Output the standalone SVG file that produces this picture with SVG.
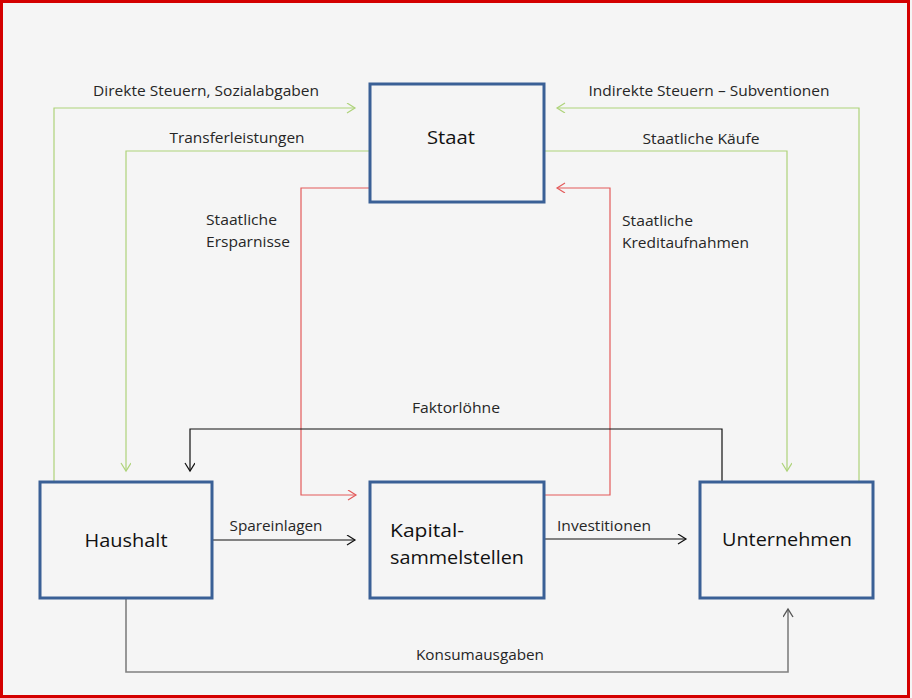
<svg xmlns="http://www.w3.org/2000/svg" width="912" height="698" viewBox="0 0 912 698">
<style>
.node rect{fill:#f5f5f5;stroke:#3a6096;stroke-width:3}
.node text{font-family:"Open Sans","Liberation Sans",sans-serif;font-size:19px;fill:#111}
.lbl{font-family:"Open Sans","Liberation Sans",sans-serif;font-size:14px;fill:#262626}
.c{fill:none;stroke-width:1.2}
.g{stroke:#aed37a}
.r{stroke:#e35b5b}
.k{stroke:#111}
.gr{stroke:#808080;stroke-width:1.6}
</style>
<defs>
<marker id="ag" markerWidth="12" markerHeight="12" refX="9" refY="5" orient="auto" markerUnits="userSpaceOnUse"><path d="M1,0 L9,5 L1,10" fill="none" stroke="#aed37a" stroke-width="1.2"/></marker>
<marker id="ar" markerWidth="12" markerHeight="12" refX="9" refY="5" orient="auto" markerUnits="userSpaceOnUse"><path d="M1,0 L9,5 L1,10" fill="none" stroke="#e35b5b" stroke-width="1.2"/></marker>
<marker id="ak" markerWidth="12" markerHeight="12" refX="9" refY="5" orient="auto" markerUnits="userSpaceOnUse"><path d="M1,0 L9,5 L1,10" fill="none" stroke="#111" stroke-width="1.2"/></marker>
<marker id="agr" markerWidth="12" markerHeight="12" refX="9" refY="5" orient="auto" markerUnits="userSpaceOnUse"><path d="M1,0 L9,5 L1,10" fill="none" stroke="#555" stroke-width="1.4"/></marker>
</defs>
<rect x="0" y="0" width="912" height="698" fill="#f5f5f5"/>
<rect x="1.5" y="1.5" width="907" height="695" fill="none" stroke="#d40000" stroke-width="3"/>

<g id="connectors">
<path class="c g" d="M54,482 V108 H355" marker-end="url(#ag)"/>
<path class="c g" d="M370,151 H126 V471" marker-end="url(#ag)"/>
<path class="c g" d="M859,482 V108 H557" marker-end="url(#ag)"/>
<path class="c g" d="M544,151 H787 V471" marker-end="url(#ag)"/>
<path class="c r" d="M370,188 H301 V495 H356" marker-end="url(#ar)"/>
<path class="c r" d="M544,495 H610 V188 H557" marker-end="url(#ar)"/>
<path class="c k" d="M722,482 V429 H190 V471" marker-end="url(#ak)"/>
<path class="c k" d="M212,540 H355" marker-end="url(#ak)"/>
<path class="c k" d="M544,539 H686" marker-end="url(#ak)"/>
<path class="c gr" d="M126,598 V672 H788 V609" marker-end="url(#agr)"/>
<text class="lbl" x="206" y="96" text-anchor="middle" textLength="226" lengthAdjust="spacingAndGlyphs">Direkte Steuern, Sozialabgaben</text>
<text class="lbl" x="237" y="143" text-anchor="middle" textLength="135" lengthAdjust="spacingAndGlyphs">Transferleistungen</text>
<text class="lbl" x="709" y="96" text-anchor="middle" textLength="241" lengthAdjust="spacingAndGlyphs">Indirekte Steuern – Subventionen</text>
<text class="lbl" x="701" y="144" text-anchor="middle" textLength="117" lengthAdjust="spacingAndGlyphs">Staatliche Käufe</text>
<text class="lbl" x="206" y="225" textLength="71" lengthAdjust="spacingAndGlyphs">Staatliche</text>
<text class="lbl" x="206" y="247" textLength="84" lengthAdjust="spacingAndGlyphs">Ersparnisse</text>
<text class="lbl" x="622" y="226" textLength="71" lengthAdjust="spacingAndGlyphs">Staatliche</text>
<text class="lbl" x="622" y="248" textLength="127" lengthAdjust="spacingAndGlyphs">Kreditaufnahmen</text>
<text class="lbl" x="456" y="413" text-anchor="middle" textLength="88" lengthAdjust="spacingAndGlyphs">Faktorlöhne</text>
<text class="lbl" x="276" y="531" text-anchor="middle" textLength="93" lengthAdjust="spacingAndGlyphs">Spareinlagen</text>
<text class="lbl" x="604" y="531" text-anchor="middle" textLength="94" lengthAdjust="spacingAndGlyphs">Investitionen</text>
<text class="lbl" x="480" y="660" text-anchor="middle" textLength="128" lengthAdjust="spacingAndGlyphs">Konsumausgaben</text>
</g>

<g id="staat" class="node">
<rect x="370" y="84" width="174" height="118"/>
<text x="451" y="144" text-anchor="middle" textLength="48" lengthAdjust="spacingAndGlyphs">Staat</text>
</g>
<g id="haushalt" class="node">
<rect x="40" y="482" width="172" height="116"/>
<text x="126" y="547" text-anchor="middle" textLength="83" lengthAdjust="spacingAndGlyphs">Haushalt</text>
</g>
<g id="kapital" class="node">
<rect x="370" y="482" width="174" height="116"/>
<text x="390" y="537" textLength="74" lengthAdjust="spacingAndGlyphs">Kapital-</text>
<text x="390" y="564" textLength="134" lengthAdjust="spacingAndGlyphs">sammelstellen</text>
</g>
<g id="unternehmen" class="node">
<rect x="700" y="482" width="173" height="116"/>
<text x="787" y="546" text-anchor="middle" textLength="130" lengthAdjust="spacingAndGlyphs">Unternehmen</text>
</g>
</svg>
